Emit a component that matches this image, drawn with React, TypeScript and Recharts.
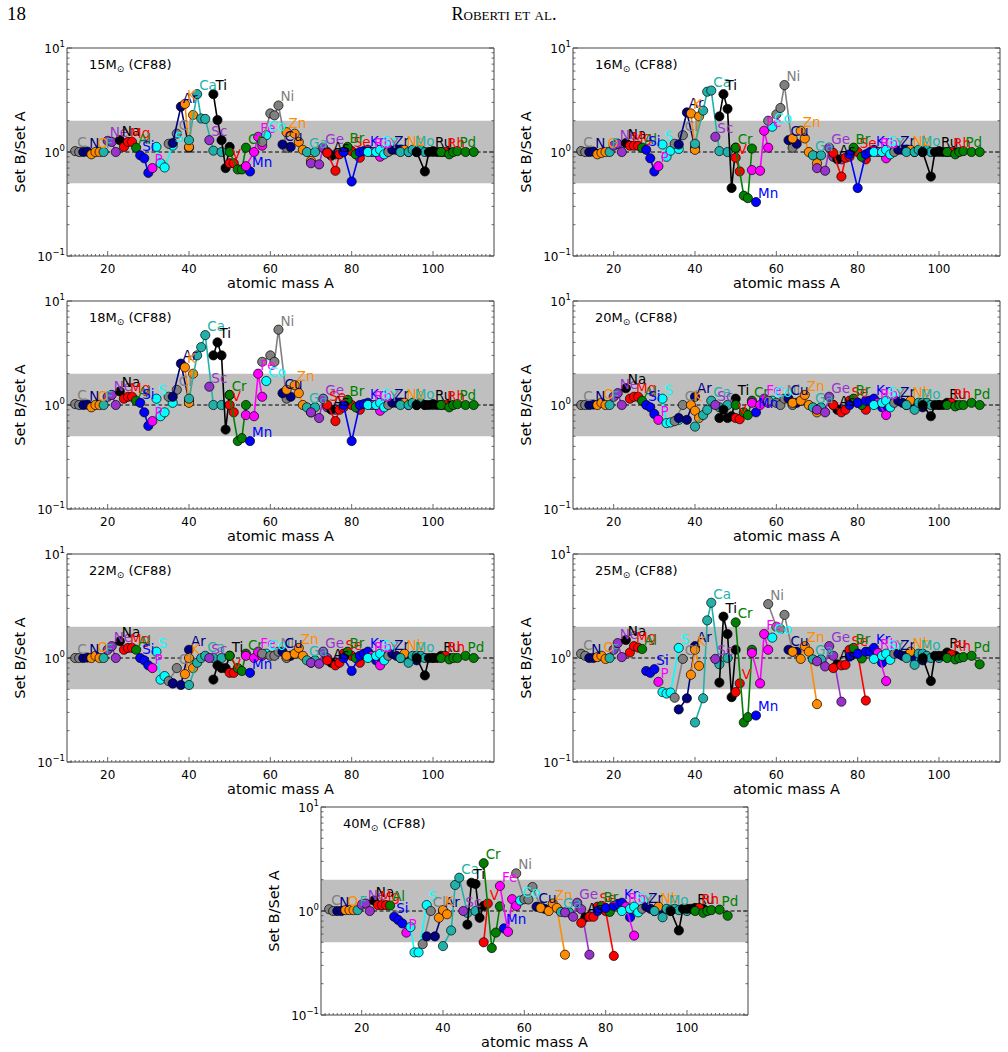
import React from 'react';
import { ScatterChart, Scatter, XAxis, YAxis, ReferenceArea, ReferenceLine } from 'recharts';

const ELEMENTS = ['C','N','O','F','Ne','Na','Mg','Al','Si','P','S','Cl','Ar','K','Ca','Sc','Ti','V','Cr','Mn','Fe','Co','Ni','Cu','Zn','Ga','Ge','As','Se','Br','Kr','Rb','Sr','Y','Zr','Nb','Mo','Ru','Rh','Pd'];

const GRAY = '#808080', NAVY = '#000080', ORANGE = '#ff8c00', TEAL = '#20b2aa', PURPLE = '#9932cc', BLACK = '#000000', RED = '#ff0000', GREEN = '#008000', BLUE = '#0000ff', MAGENTA = '#ff00ff', CYAN = '#00ffff';
const COLORS = [GRAY, NAVY, ORANGE, TEAL, PURPLE, BLACK, RED, GREEN, BLUE, MAGENTA, CYAN,
  GRAY, NAVY, ORANGE, TEAL, PURPLE, BLACK, RED, GREEN, BLUE, MAGENTA, CYAN,
  GRAY, NAVY, ORANGE, TEAL, PURPLE, BLACK, RED, GREEN, BLUE, MAGENTA, CYAN,
  GRAY, NAVY, ORANGE, TEAL, BLACK, RED, GREEN];

const MASSES: number[][] = [
  [12, 13], [14, 15], [16, 17, 18], [19], [20, 21, 22], [23], [24, 25, 26], [27], [28, 29, 30], [31],
  [32, 33, 34, 36], [35, 37], [36, 38, 40], [39, 40, 41], [40, 42, 43, 44, 46, 48], [45], [46, 47, 48, 49, 50], [50, 51], [50, 52, 53, 54], [55],
  [54, 56, 57, 58], [59], [58, 60, 61, 62, 64], [63, 65], [64, 66, 67, 68, 70], [69, 71], [70, 72, 73, 74, 76], [75], [74, 76, 77, 78, 80, 82], [79, 81],
  [78, 80, 82, 83, 84, 86], [85, 87], [84, 86, 87, 88], [89], [90, 91, 92, 94, 96], [93], [92, 94, 95, 96, 97, 98, 100], [96, 98, 99, 100, 101, 102, 104], [103], [102, 104, 105, 106, 108, 110],
];

const M15: number[][] = [
  [1.02, 1.0], [1.0, 1.01], [0.95, 1.0, 1.0], [1.0], [1.28, 1.25, 1.0], [1.3], [1.12, 1.25, 1.25], [1.1], [0.93, 0.87, 0.63], [0.7],
  [1.12, 0.78, 0.71, 1.15], [1.2, 1.5], [1.22, 2.73, 1.1], [2.9, 1.12, 2.27], [1.3, 3.6, 2.1, 2.08, 1.03, 1.0], [1.3], [3.6, 2.03, 1.3, 0.7, 1.12], [0.78, 0.78], [1.0, 0.68, 0.68, 1.1], [0.65],
  [0.73, 1.0, 1.4, 1.15], [1.45], [1.25, 2.35, 2.25, 2.8, 1.1], [1.18, 1.12], [1.55, 1.5, 1.25, 1.05, 0.82], [1.0, 1.0], [0.78, 0.76, 1.1, 1.0, 0.95], [0.92], [0.98, 0.66, 0.95, 1.0, 1.02, 0.88], [1.12, 0.95],
  [1.0, 0.52, 1.0, 1.02, 1.05, 1.0], [1.0, 0.9], [1.0, 1.0, 1.05, 0.95], [1.0], [1.05, 1.05, 1.05, 1.0, 1.0], [1.05], [1.0, 1.0, 1.05, 1.0, 1.05, 1.0, 1.0], [1.0, 0.65, 1.0, 1.02, 1.0, 1.0, 1.0], [1.0], [1.0, 0.95, 1.0, 1.02, 1.0, 1.0],
];

const M16: number[][] = [
  [1.02, 1.0], [1.0, 1.01], [0.95, 0.98, 1.0], [1.0], [1.15, 1.2, 1.0], [1.22], [1.15, 1.15, 1.15], [1.1], [1.05, 0.87, 0.65], [0.73],
  [1.18, 0.9, 1.03, 1.07], [1.2, 1.45], [1.18, 2.4, 1.1], [2.35, 1.05, 2.2], [1.2, 2.5, 3.8, 3.9, 1.02, 1.0], [1.4], [2.2, 3.6, 2.6, 0.45, 1.1], [0.88, 0.65], [1.1, 0.38, 0.36, 1.08], [0.33],
  [0.67, 0.66, 1.6, 1.1], [1.75], [2.0, 2.3, 2.65, 4.4, 1.1], [1.3, 1.2], [1.35, 1.6, 1.35, 1.0, 0.78], [0.93, 0.93], [0.7, 0.66, 1.1, 0.9, 0.85], [0.85], [0.98, 0.58, 0.88, 0.9, 1.0, 0.85], [1.1, 0.9],
  [0.95, 0.45, 0.95, 1.0, 1.05, 1.0], [1.0, 0.87], [1.0, 1.0, 1.05, 0.95], [1.0], [1.05, 1.05, 1.05, 1.0, 1.0], [1.05], [1.0, 1.0, 1.05, 1.0, 1.05, 1.0, 1.0], [1.0, 0.58, 1.0, 1.02, 1.0, 1.0, 1.0], [1.0], [1.0, 0.95, 1.0, 1.02, 1.0, 1.0],
];

const M18: number[][] = [
  [1.02, 1.0], [1.0, 1.01], [0.95, 1.0, 1.0], [1.0], [1.2, 1.25, 1.0], [1.35], [1.15, 1.2, 1.2], [1.1], [1.05, 0.85, 0.63], [0.7],
  [1.15, 0.78, 0.85, 1.05], [1.2, 1.4], [1.2, 2.5, 1.1], [2.3, 1.05, 2.0], [1.15, 3.0, 3.6, 4.7, 1.0, 1.0], [1.5], [3.0, 4.0, 3.0, 0.58, 1.25], [1.0, 0.85], [1.25, 0.45, 0.48, 1.0], [0.45],
  [0.8, 0.78, 2.0, 1.2], [1.7], [2.6, 3.0, 2.6, 5.3, 1.15], [1.3, 1.2], [1.4, 1.55, 1.3, 1.0, 0.85], [0.95, 0.95], [0.85, 0.75, 1.15, 0.95, 0.9], [0.9], [1.0, 0.7, 0.9, 0.95, 1.0, 0.9], [1.12, 0.95],
  [1.0, 0.45, 1.0, 1.02, 1.05, 1.0], [1.0, 0.88], [1.0, 1.0, 1.05, 0.95], [1.0], [1.05, 1.05, 1.05, 1.0, 1.0], [1.05], [1.0, 1.0, 1.05, 1.0, 1.05, 1.0, 1.0], [1.0, 1.0, 1.0, 1.02, 1.0, 1.0, 1.0], [1.0], [1.0, 0.95, 1.0, 1.02, 1.0, 1.0],
];

const M20: number[][] = [
  [1.0, 1.0], [1.0, 1.01], [1.0, 1.05, 1.0], [1.0], [1.2, 1.3, 1.0], [1.45], [1.15, 1.2, 1.2], [1.1], [1.0, 0.95, 0.82], [0.72],
  [1.15, 0.67, 0.68, 0.72], [0.7, 1.0], [0.75, 0.72, 1.2], [1.0, 0.88, 0.75], [0.62, 0.8, 0.9, 1.1, 0.95, 1.0], [1.0], [0.75, 0.9, 0.75, 0.78, 1.15], [0.75, 0.73], [1.0, 0.85, 0.8, 1.1], [0.85],
  [1.05, 1.0, 1.15, 1.05], [1.1], [1.1, 1.05, 1.0, 1.15, 1.0], [1.15, 1.05], [1.05, 1.1, 1.25, 1.0, 0.85], [0.95, 0.95], [0.9, 0.85, 1.2, 1.0, 0.9], [0.9], [1.0, 0.85, 0.9, 1.1, 1.05, 0.9], [1.15, 1.0],
  [1.0, 1.05, 1.1, 1.1, 1.15, 0.95], [1.05, 0.8], [1.0, 1.05, 1.1, 0.95], [1.05], [1.1, 1.05, 1.0, 1.0, 0.95], [1.1], [1.0, 0.9, 1.05, 1.05, 1.05, 1.0, 1.0], [1.0, 0.78, 1.0, 1.0, 1.0, 1.05, 1.0], [1.05], [1.0, 0.97, 1.0, 1.0, 1.05, 1.0],
];

const M22: number[][] = [
  [1.0, 1.0], [1.0, 1.01], [1.0, 1.05, 1.0], [1.0], [1.2, 1.3, 1.0], [1.45], [1.2, 1.25, 1.25], [1.2], [1.0, 0.95, 0.85], [0.8],
  [1.15, 0.62, 0.67, 0.57], [0.6, 0.8], [0.57, 0.55, 1.2], [0.7, 1.0, 0.8], [0.55, 0.9, 1.0, 1.05, 1.0, 1.0], [1.0], [0.62, 0.85, 0.8, 0.8, 1.05], [0.72, 0.72], [1.05, 0.8, 0.75, 1.1], [0.72],
  [1.05, 1.0, 1.15, 1.05], [1.1], [1.1, 1.05, 1.05, 1.15, 1.0], [1.15, 1.05], [1.05, 1.1, 1.25, 1.05, 0.9], [0.95, 0.95], [0.9, 0.88, 1.15, 1.0, 0.9], [0.9], [0.95, 0.85, 0.9, 1.1, 1.05, 0.9], [1.15, 1.0],
  [1.0, 0.75, 1.05, 1.1, 1.15, 0.95], [1.05, 0.85], [1.0, 1.05, 1.1, 0.95], [1.05], [1.1, 1.05, 1.0, 1.0, 0.95], [1.1], [1.0, 0.9, 1.05, 1.05, 1.05, 1.0, 1.0], [1.0, 0.68, 1.0, 1.0, 1.0, 1.05, 1.0], [1.05], [1.0, 0.97, 1.0, 1.0, 1.05, 1.0],
];

const M25: number[][] = [
  [1.1, 1.05], [1.0, 1.0], [1.02, 1.05, 0.98], [1.0], [1.2, 1.39, 1.02], [1.49], [1.13, 1.3, 1.26], [1.22], [0.75, 0.72, 0.78], [0.59],
  [0.47, 0.455, 0.465, 1.25], [0.415, 0.98], [0.32, 0.41, 1.3], [0.69, 1.2, 0.84], [0.24, 0.41, 2.3, 3.4, 0.87, 1.0], [0.98], [0.58, 2.5, 1.7, 0.42, 1.2], [0.47, 0.57], [2.2, 0.24, 0.27, 1.2], [0.28],
  [1.12, 0.57, 1.7, 1.2], [1.57], [3.3, 2.0, 1.9, 2.6, 1.15], [1.2, 1.15], [1.15, 0.98, 1.3, 1.15, 0.36], [0.97, 0.97], [0.93, 0.83, 1.3, 1.05, 0.38], [0.87], [0.8, 0.85, 0.86, 1.2, 1.1, 0.39], [1.25, 0.99],
  [1.03, 1.1, 1.15, 1.15, 1.25, 0.9], [1.12, 0.6], [0.98, 1.05, 1.1, 0.96], [1.1], [1.1, 1.05, 1.05, 1.0, 0.95], [1.15], [1.0, 0.86, 1.1, 1.1, 1.05, 1.0, 1.0], [1.0, 0.6, 1.05, 1.05, 1.05, 1.13, 1.05], [1.08], [1.0, 0.97, 1.0, 1.02, 1.05, 0.87],
];

const M40: number[][] = [
  [1.04, 1.0], [1.0, 1.0], [1.02, 1.02, 1.02], [1.02], [1.15, 1.18, 1.0], [1.26], [1.14, 1.14, 1.14], [1.13], [0.88, 0.82, 0.76], [0.62],
  [0.7, 0.4, 0.4, 1.14], [0.48, 1.0], [0.57, 0.57, 1.0], [0.86, 1.02, 0.93], [0.46, 0.65, 1.78, 2.09, 0.96, 1.0], [1.0], [0.74, 1.87, 1.82, 0.86, 1.12], [0.5, 1.18], [2.88, 0.44, 0.62, 1.11], [0.68],
  [1.74, 0.63, 1.3, 1.12], [1.26], [2.3, 1.3, 1.29, 1.7, 1.1], [1.1, 1.05], [1.07, 1.0, 1.18, 1.07, 0.38], [0.98, 0.97], [0.97, 0.88, 1.2, 1.04, 0.38], [0.87], [0.77, 0.88, 0.88, 1.1, 1.0, 0.37], [1.12, 0.98],
  [1.0, 1.07, 1.12, 1.17, 1.2, 0.87], [1.1, 0.58], [1.0, 1.05, 1.1, 0.97], [1.05], [1.1, 1.05, 1.0, 1.0, 1.0], [1.1], [1.0, 0.87, 1.05, 1.03, 1.05, 1.02, 1.0], [1.0, 0.65, 1.05, 1.05, 1.05, 1.07, 1.05], [1.07], [1.0, 0.96, 1.0, 1.02, 1.03, 0.9],
];

const X_TICKS_MAJOR = [20, 40, 60, 80, 100];
const X_TICKS: number[] = [11,12,13,14,15,16,17,18,19,20,21,22,23,24,25,26,27,28,29,30,31,32,33,34,35,36,37,38,39,40,41,42,43,44,45,46,47,48,49,50,51,52,53,54,55,56,57,58,59,60,61,62,63,64,65,66,67,68,69,70,71,72,73,74,75,76,77,78,79,80,81,82,83,84,85,86,87,88,89,90,91,92,93,94,95,96,97,98,99,100,101,102,103,104,105,106,107,108,109,110,111,112,113,114];
const Y_TICKS = [0.1, 0.2, 0.3, 0.4, 0.5, 0.6, 0.7, 0.8, 0.9, 1, 2, 3, 4, 5, 6, 7, 8, 9, 10];
const Y_SUP: Record<string, string> = { '0.1': '\u22121', '1': '0', '10': '1' };

const PANELS = [
  { mass: '15', values: M15 },
  { mass: '16', values: M16 },
  { mass: '18', values: M18 },
  { mass: '20', values: M20 },
  { mass: '22', values: M22 },
  { mass: '25', values: M25 },
  { mass: '40', values: M40 },
];
const LAYOUT = [
  { left: 67, top: 48 }, { left: 573, top: 48 },
  { left: 67, top: 301 }, { left: 573, top: 301 },
  { left: 67, top: 554 }, { left: 573, top: 554 },
  { left: 321, top: 807 },
];

const FONT = 'DejaVu Sans, sans-serif';
const PW = 427, PH = 208;
const AXL = 60, AXR = 10, AXT = 10, AXB = 45;
const FRAME = '#444';

const isMajorY = (v: number) => v === 0.1 || v === 1 || v === 10;

const XTickBottom = (p: any) => {
  const v = p.payload.value;
  const major = X_TICKS_MAJOR.includes(v);
  return (
    <g>
      <line x1={p.x} x2={p.x} y1={p.y} y2={p.y - (major ? 5 : 2)} stroke={FRAME} strokeWidth={0.8} />
      {major && <text x={p.x} y={p.y + 17} textAnchor="middle" fontSize={12} fontFamily={FONT} fill="#000">{v}</text>}
    </g>
  );
};
const XTickTop = (p: any) => {
  const v = p.payload.value;
  const major = X_TICKS_MAJOR.includes(v);
  return <line x1={p.x} x2={p.x} y1={p.y} y2={p.y + (major ? 5 : 2)} stroke={FRAME} strokeWidth={0.8} />;
};
const YTickLeft = (p: any) => {
  const v = p.payload.value;
  const major = isMajorY(v);
  return (
    <g>
      <line x1={p.x} x2={p.x + (major ? 5 : 2.5)} y1={p.y} y2={p.y} stroke={FRAME} strokeWidth={0.8} />
      {major && (
        <text x={p.x - 2} y={p.y + 5} textAnchor="end" fontSize={12} fontFamily={FONT} fill="#000">
          10<tspan dy={-6} fontSize={8.5}>{Y_SUP[String(v)]}</tspan>
        </text>
      )}
    </g>
  );
};
const YTickRight = (p: any) => {
  const v = p.payload.value;
  const major = isMajorY(v);
  return <line x1={p.x} x2={p.x - (major ? 5 : 2.5)} y1={p.y} y2={p.y} stroke={FRAME} strokeWidth={0.8} />;
};

const makeDot = (color: string) => (p: any) => (
  <circle cx={p.cx} cy={p.cy} r={4.6} fill={color} stroke="#000" strokeWidth={0.7} />
);
const LabelShape = (p: any) => (
  <text x={p.cx + 2} y={p.cy - 4} fill={p.payload.color} fontSize={13.5} fontFamily={FONT}>{p.payload.name}</text>
);

function Panel({ mass, values, left, top }: { mass: string; values: number[][]; left: number; top: number }) {
  const W = AXL + PW + AXR, H = AXT + PH + AXB;
  const pointSeries: React.ReactNode[] = [];
  const labels: { x: number; y: number; name: string; color: string }[] = [];
  ELEMENTS.forEach((el, i) => {
    const data = MASSES[i].map((a, j) => ({ x: a, y: values[i][j] }));
    const best = data.reduce((m, d) => (d.y > m.y ? d : m), data[0]);
    const color = COLORS[i];
    pointSeries.push(
      <Scatter key={el + '-p'} data={data} fill={color} line={{ stroke: color, strokeWidth: 1.6 }} lineType="joint"
        shape={makeDot(color)} isAnimationActive={false} legendType="none" />
    );
    labels.push({ x: best.x, y: best.y, name: el, color });
  });
  return (
    <>
      <div style={{ position: 'absolute', left: left - AXL, top: top - AXT }}>
        <ScatterChart width={W} height={H} margin={{ top: 0, right: 0, bottom: 0, left: 0 }}>
          <XAxis xAxisId={0} dataKey="x" type="number" domain={[10, 115]} ticks={X_TICKS} interval={0} allowDataOverflow
            orientation="bottom" height={AXB} tickSize={0} tickMargin={0} tickLine={false} tick={XTickBottom}
            axisLine={{ stroke: FRAME, strokeWidth: 1 }}
            label={{ value: 'atomic mass A', position: 'insideBottom', offset: 13, fontSize: 14.5, fontFamily: FONT, fill: '#000' }} />
          <XAxis xAxisId="t" type="number" domain={[10, 115]} ticks={X_TICKS} interval={0} allowDataOverflow
            orientation="top" height={AXT} tickSize={0} tickMargin={0} tickLine={false} tick={XTickTop}
            axisLine={{ stroke: FRAME, strokeWidth: 1 }} />
          <YAxis yAxisId={0} dataKey="y" type="number" scale="log" domain={[0.1, 10]} ticks={Y_TICKS} interval={0} allowDataOverflow
            orientation="left" width={AXL} tickSize={0} tickMargin={0} tickLine={false} tick={YTickLeft}
            axisLine={{ stroke: FRAME, strokeWidth: 1 }}
            label={{ value: 'Set B/Set A', angle: -90, position: 'insideLeft', offset: 13, fontSize: 14.5, fontFamily: FONT, fill: '#000', style: { textAnchor: 'middle' } }} />
          <YAxis yAxisId="r" type="number" scale="log" domain={[0.1, 10]} ticks={Y_TICKS} interval={0} allowDataOverflow
            orientation="right" width={AXR} tickSize={0} tickMargin={0} tickLine={false} tick={YTickRight}
            axisLine={{ stroke: FRAME, strokeWidth: 1 }} />
          <ReferenceArea y1={0.5} y2={2} fill="#bfbfbf" fillOpacity={1} stroke="none" ifOverflow="hidden" />
          <ReferenceLine y={1} stroke="#000" strokeWidth={1} strokeDasharray="4 2.5" />
          {pointSeries}
          <Scatter key="labels" data={labels} shape={LabelShape} isAnimationActive={false} legendType="none" />
        </ScatterChart>
      </div>
      <div style={{ position: 'absolute', left: left + 22, top: top + 9, fontFamily: FONT, fontSize: 13, lineHeight: '15px', color: '#000', whiteSpace: 'nowrap' }}>
        {mass}M<span style={{ fontSize: 9, position: 'relative', top: 3 }}>{'\u2299'}</span> (CF88)
      </div>
    </>
  );
}

export default function App() {
  return (
    <div style={{ position: 'absolute', left: 0, top: 0, width: 1008, height: 1052, background: '#fff', overflow: 'hidden' }}>
      <div style={{ position: 'absolute', left: 7, top: 2, fontFamily: 'Liberation Serif, serif', fontSize: 19, lineHeight: '24px' }}>18</div>
      <div style={{ position: 'absolute', left: 0, width: 1008, top: 2, textAlign: 'center', fontFamily: 'Liberation Serif, serif', fontSize: 18, lineHeight: '24px', fontVariant: 'small-caps' }}>Roberti et al.</div>
      {PANELS.map((p, i) => (
        <Panel key={p.mass} mass={p.mass} values={p.values} left={LAYOUT[i].left} top={LAYOUT[i].top} />
      ))}
    </div>
  );
}
